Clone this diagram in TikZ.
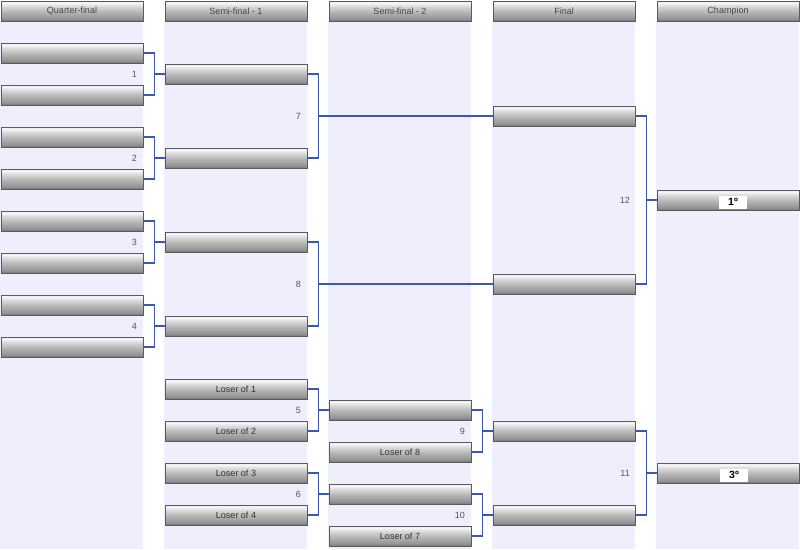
\documentclass[tikz,border=0pt]{standalone}
\usepackage{fontspec}
\setmainfont{Liberation Sans}
\definecolor{bgcol}{RGB}{238,238,252}
\definecolor{conncol}{RGB}{58,88,178}
\definecolor{ga}{RGB}{118,118,118}
\definecolor{gb}{RGB}{148,148,148}
\definecolor{gc}{RGB}{182,182,182}
\definecolor{gd}{RGB}{218,218,218}
\definecolor{ge}{RGB}{246,246,246}
\definecolor{gf}{RGB}{236,236,236}
\definecolor{slotedge}{RGB}{90,90,90}
\definecolor{numcol}{RGB}{85,85,85}
\definecolor{txtcol}{RGB}{50,50,50}
\pgfdeclareverticalshading{gloss}{100bp}{color(0bp)=(ga); color(25bp)=(ga); color(31bp)=(gb); color(48bp)=(gc); color(62bp)=(gd); color(70bp)=(ge); color(75bp)=(gf); color(100bp)=(gf)}
\tikzset{
  slotbox/.style={rectangle, minimum width=142pt, minimum height=20pt, inner sep=0pt,
    draw=slotedge, line width=0.6pt, shading=gloss,
    font=\fontsize{9}{10}\selectfont, text=txtcol},
  headbox/.style={slotbox, text=txtcol!90},
  conn/.style={draw=conncol, line width=1.3pt},
  numlab/.style={anchor=east, inner sep=0pt, font=\fontsize{9}{10}\selectfont, text=numcol},
  placebox/.style={rectangle, fill=white, minimum width=28pt, minimum height=13pt, inner sep=0pt,
    font=\bfseries\fontsize{10.5}{11}\selectfont, text=black}
}
\begin{document}
\begin{tikzpicture}[x=1pt,y=-1pt]
\useasboundingbox (0,0) rectangle (800,549);
\fill[white] (0,0) rectangle (800,549);
% column backgrounds
\foreach \l in {1,165,329,493,657} {
  \fill[bgcol] (\l-1,21) rectangle (\l+142,549);
}
% headers
\node[headbox] (h1) at (72,11) {Quarter-final};
\node[headbox] (h2) at (236,11) {Semi-final - 1};
\node[headbox] (h3) at (400,11) {Semi-final - 2};
\node[headbox] (h4) at (564,11) {Final};
\node[headbox] (h5) at (728,11) {Champion};
% quarter-final
\node[slotbox] (q1) at (72,53) {};
\node[slotbox] (q2) at (72,95) {};
\node[slotbox] (q3) at (72,137) {};
\node[slotbox] (q4) at (72,179) {};
\node[slotbox] (q5) at (72,221) {};
\node[slotbox] (q6) at (72,263) {};
\node[slotbox] (q7) at (72,305) {};
\node[slotbox] (q8) at (72,347) {};
% semi-final 1
\node[slotbox] (s1) at (236,74) {};
\node[slotbox] (s2) at (236,158) {};
\node[slotbox] (s3) at (236,242) {};
\node[slotbox] (s4) at (236,326) {};
\node[slotbox] (l1) at (236,389) {Loser of 1};
\node[slotbox] (l2) at (236,431) {Loser of 2};
\node[slotbox] (l3) at (236,473) {Loser of 3};
\node[slotbox] (l4) at (236,515) {Loser of 4};
% semi-final 2
\node[slotbox] (t1) at (400,410) {};
\node[slotbox] (t2) at (400,452) {Loser of 8};
\node[slotbox] (t3) at (400,494) {};
\node[slotbox] (t4) at (400,536) {Loser of 7};
% final
\node[slotbox] (f1) at (564,116) {};
\node[slotbox] (f2) at (564,284) {};
\node[slotbox] (f3) at (564,431) {};
\node[slotbox] (f4) at (564,515) {};
% champion
\node[slotbox] (c1) at (728,200) {};
\node[placebox] (p1) at (733,202) {1º};
\node[slotbox] (c3) at (728,473) {};
\node[placebox] (p3) at (734,475) {3º};
% connectors
\foreach \a/\b/\c in {q1/q2/s1, q3/q4/s2, q5/q6/s3, q7/q8/s4, l1/l2/t1, l3/l4/t3} {
  \draw[conn] (\a.east) -- ++(11,0) |- (\b.east);
  \draw[conn] (\c.west) -- ++(-11,0);
}
\foreach \a/\b/\c in {t1/t2/f3, t3/t4/f4, f1/f2/c1, f3/f4/c3} {
  \draw[conn] (\a.east) -- ++(11,0) |- (\b.east);
  \draw[conn] (\c.west) -- ++(-11,0);
}
\draw[conn] (s1.east) -- ++(11,0) |- (s2.east);
\draw[conn] (s3.east) -- ++(11,0) |- (s4.east);
\coordinate (j7) at ([xshift=11pt]s1.east |- f1.west);
\coordinate (j8) at ([xshift=11pt]s3.east |- f2.west);
\draw[conn] (f1.west) -- (j7);
\draw[conn] (f2.west) -- (j8);
% match numbers
\node[numlab] (n1) at (137,74) {1};
\node[numlab] (n2) at (137,158) {2};
\node[numlab] (n3) at (137,242) {3};
\node[numlab] (n4) at (137,326) {4};
\node[numlab] (n5) at (301,410) {5};
\node[numlab] (n6) at (301,494) {6};
\node[numlab] (n7) at (301,116) {7};
\node[numlab] (n8) at (301,284) {8};
\node[numlab] (n9) at (465,431) {9};
\node[numlab] (n10) at (465,515) {10};
\node[numlab] (n11) at (630,473) {11};
\node[numlab] (n12) at (630,200) {12};
\end{tikzpicture}
\end{document}
